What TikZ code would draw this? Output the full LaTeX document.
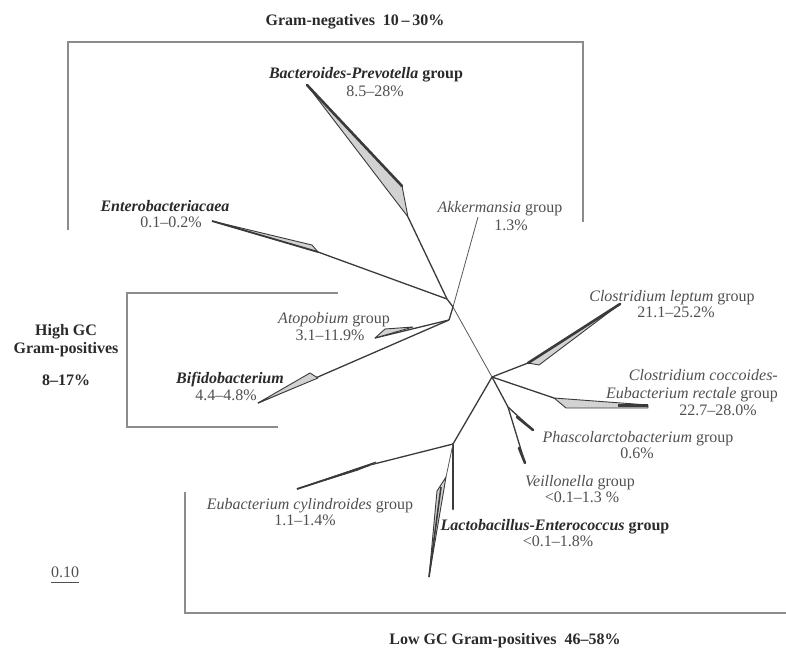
\documentclass[tikz,border=0pt]{standalone}
\usepackage{fontspec}
\setmainfont{Liberation Serif}
\definecolor{txtgray}{HTML}{505050}
\definecolor{txtdark}{HTML}{2A2A2A}
\definecolor{boxgray}{HTML}{8C8C8C}
\definecolor{brgray}{HTML}{3A3A3A}
\definecolor{wedgefill}{HTML}{D2D2D2}
\begin{document}
\begin{tikzpicture}[x=1pt,y=-1pt,
  lbl/.style={inner sep=0pt, text height=11pt, text depth=3pt, font=\fontsize{16}{18}\selectfont, text=txtgray},
  blbl/.style={lbl, font=\fontsize{16}{18}\selectfont\bfseries, text=txtdark},
  boxline/.style={draw=boxgray, line width=1.8pt},
  br/.style={draw=brgray, line width=1.3pt},
  thinbr/.style={draw=brgray!85, line width=0.8pt},
  wedge/.style={draw=brgray, line width=0.9pt, fill=wedgefill, line join=round},
  heavy/.style={draw=brgray, line width=2.6pt, line cap=round},
]
\useasboundingbox (0,0) rectangle (786,650);

% group boxes
\draw[boxline] (68,230) -- (68,42) -- (583,42) -- (583,222);
\draw[boxline] (338,293) -- (127,293) -- (127,427) -- (278,427);
\draw[boxline] (185,492) -- (185,613) -- (786,613);

% internal tree points
\coordinate (A) at (447,299);
\coordinate (B) at (453,307);
\coordinate (H) at (449,320);
\coordinate (L1) at (492,377);
\coordinate (P1) at (508,407);
\coordinate (L3) at (453,444);

% tips and wedge points
\coordinate (bt) at (307,85);
\coordinate (bu) at (402,186);
\coordinate (bw) at (408,217);
\coordinate (ew) at (318,252);
\coordinate (eu) at (312,245);
\coordinate (et) at (212,221);
\coordinate (akt) at (478,217);
\coordinate (atw) at (413,327);
\coordinate (atu) at (385,329);
\coordinate (att) at (375,338);
\coordinate (bfw) at (318,378);
\coordinate (bfu) at (310,373);
\coordinate (bft) at (258,403);
\coordinate (clw) at (528,363);
\coordinate (cll) at (539,365);
\coordinate (clt) at (620,304);
\coordinate (ccw) at (554,398);
\coordinate (cct) at (648,405);
\coordinate (ccb) at (648,408);
\coordinate (ccl) at (566,408);
\coordinate (phw) at (517,417);
\coordinate (pht) at (533,430);
\coordinate (vew) at (519,448);
\coordinate (vet) at (525,463);
\coordinate (euw) at (370,465);
\coordinate (euu) at (376,462);
\coordinate (eul) at (358,470);
\coordinate (eut) at (297,489);
\coordinate (lav) at (453,509);
\coordinate (law) at (446,477);
\coordinate (lal) at (437,491);
\coordinate (lat) at (429,577);

% Gram-negatives
\draw[br] (A) -- (bw);
\filldraw[wedge] (bt) -- (bu) -- (bw) -- cycle;
\draw[heavy] (bt) -- (bu);
\draw[br] (A) -- (ew);
\filldraw[wedge] (et) -- (eu) -- (ew) -- cycle;
\draw[draw=brgray, line width=1.8pt] (et) -- (ew);
\draw[thinbr] (B) -- (akt);
\draw[br] (A) -- (B);

% High GC
\draw[br] (B) -- (H);
\draw[br] (H) -- (att);
\filldraw[wedge] (atw) -- (atu) -- (att) -- cycle;
\draw[br] (H) -- (bft);
\filldraw[wedge] (bfw) -- (bfu) -- (bft) -- cycle;

% Low GC
\draw[thinbr] (B) -- (L1);
\draw[br] (L1) -- (clw);
\filldraw[wedge] (clw) -- (clt) -- (cll) -- cycle;
\draw[heavy] (clw) -- (clt);
\draw[br] (L1) -- (ccw);
\filldraw[wedge] (ccw) -- (cct) -- (ccb) -- (ccl) -- cycle;
\draw[draw=brgray, line width=3pt] (618,405) -- (cct);
\draw[br] (L1) -- (P1);
\draw[br] (P1) -- (pht);
\draw[heavy] (phw) -- (pht);
\draw[br] (P1) -- (vet);
\draw[heavy] (vew) -- (vet);
\draw[br] (L1) -- (L3);
\draw[br] (L3) -- (euw);
\filldraw[wedge] (euu) -- (eut) -- (eul) -- cycle;
\draw[draw=brgray, line width=1.8pt] (euw) -- (eut);
\draw[heavy] (L3) -- (lav);
\draw[thinbr] (L3) -- (law);
\filldraw[wedge] (law) -- (lal) -- (lat) -- cycle;
\draw[draw=brgray, line width=1.6pt] (441,487) -- (lat);

% group titles
\node[blbl] (tgn) at (355,22) {Gram-negatives\ \ 10\,–\,30\%};
\node[blbl] (thi1) at (66,331) {High GC};
\node[blbl] (thi2) at (66,349) {Gram-positives};
\node[blbl] (thi3) at (66,381) {8–17\%};
\node[blbl] (tlo) at (505,640) {Low GC Gram-positives\ \ 46–58\%};

% taxon labels
\node[blbl] (bac1) at (366,75) {\textit{Bacteroides-Prevotella} group};
\node[lbl] (bac2) at (375,92) {8.5–28\%};
\node[blbl] (ent1) at (165,207) {\textit{Enterobacteriacaea}};
\node[lbl] (ent2) at (171,223) {0.1–0.2\%};
\node[lbl] (akk1) at (500,208) {\textit{Akkermansia} group};
\node[lbl] (akk2) at (511,226) {1.3\%};
\node[lbl] (ato1) at (334,319) {\textit{Atopobium} group};
\node[lbl] (ato2) at (330,336) {3.1–11.9\%};
\node[blbl] (bif1) at (230,379) {\textit{Bifidobacterium}};
\node[lbl] (bif2) at (226,396) {4.4–4.8\%};
\node[lbl] (cle1) at (672,297) {\textit{Clostridium leptum} group};
\node[lbl] (cle2) at (676,313) {21.1–25.2\%};
\node[lbl, anchor=east] (cco1) at (778,376) {\textit{Clostridium coccoides-}};
\node[lbl, anchor=east] (cco2) at (778,394) {\textit{Eubacterium rectale} group};
\node[lbl] (cco3) at (718,411) {22.7–28.0\%};
\node[lbl] (pha1) at (638,438) {\textit{Phascolarctobacterium} group};
\node[lbl] (pha2) at (637,454) {0.6\%};
\node[lbl] (vei1) at (580,482) {\textit{Veillonella} group};
\node[lbl] (vei2) at (582,498) {<0.1–1.3 \%};
\node[lbl] (eub1) at (310,505) {\textit{Eubacterium cylindroides} group};
\node[lbl] (eub2) at (305,521) {1.1–1.4\%};
\node[blbl] (lac1) at (555,526) {\textit{Lactobacillus-Enterococcus} group};
\node[lbl] (lac2) at (558,542) {<0.1–1.8\%};

% scale bar
\node[lbl] (sb) at (65,573) {0.10};
\draw[draw=txtgray, line width=0.8pt] ([yshift=-2pt]sb.south west) -- ([yshift=-2pt]sb.south east);
\end{tikzpicture}
\end{document}
